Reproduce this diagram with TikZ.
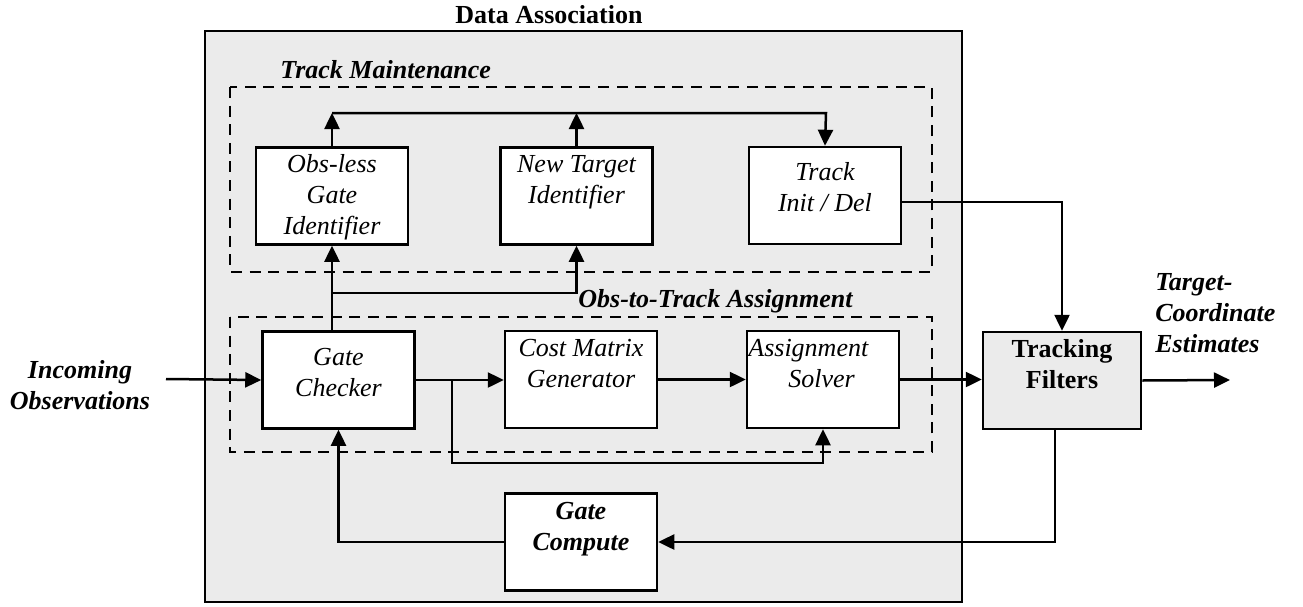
\documentclass[tikz,border=0pt]{standalone}
\usepackage{fontspec}
\setmainfont{Liberation Serif}
\usetikzlibrary{arrows.meta}
\begin{document}
\begin{tikzpicture}[x=0.5pt,y=-0.5pt,
  arr/.style={line width=1.25pt,-{Triangle[length=8pt,width=7.5pt]}},
  blk/.style={draw,line width=1.25pt,fill=white,minimum width=76pt,minimum height=48.5pt,inner sep=0pt},
  dbox/.style={draw,line width=1.25pt,dash pattern=on 5.5pt off 3.8pt},
  it/.style={font=\fontsize{13pt}{15.3pt}\selectfont\itshape,align=center,inner sep=0pt},
  bi/.style={font=\fontsize{13pt}{15.3pt}\selectfont\bfseries\itshape,align=center,inner sep=0pt},
  bd/.style={font=\fontsize{13pt}{15.3pt}\selectfont\bfseries,align=center,inner sep=0pt}]
\useasboundingbox (0,0) rectangle (1303,606);
% outer box
\draw[line width=1.25pt,fill=black!8] (205,31) rectangle (962,602);
\node[bd,anchor=base] (datl) at (549,23) {Data Association};
% dashed groups
\draw[dbox] (230,87) rectangle (932,272);
\draw[dbox] (230,317) rectangle (932,452);
\node[bi,anchor=base west] (tml) at (280,78) {Track Maintenance};
\node[bi,anchor=base west] (otl) at (578,307) {Obs-to-Track Assignment};
% blocks
\node[blk] (obs) at (332,196) {};
\node[blk] (newt) at (576.5,196) {};
\node[blk] (init) at (825,195.5) {};
\node[blk] (gchk) at (338.5,380) {};
\node[blk] (cost) at (581,379.5) {};
\node[blk] (asg) at (823,379.5) {};
\node[blk] (gcomp) at (581,542) {};
\node[blk,fill=black!8,minimum width=79pt] (trk) at (1062,380.5) {};
% block texts (base = last line)
\node[it,anchor=base] (obst) at (332,234) {Obs-less\\Gate\\Identifier};
\node[it,anchor=base] (newtt) at (576.5,203) {New Target\\Identifier};
\node[it,anchor=base] (initt) at (825,211) {Track\\Init / Del};
\node[it,anchor=base] (gchkt) at (338.5,396) {Gate\\Checker};
\node[it,anchor=base] (costt) at (581,387) {Cost Matrix\\Generator};
\node[it,anchor=base west,align=left] (asgt) at (748,387) {Assignment\\\hspace*{20pt}Solver};
\node[bi,anchor=base] (gcompt) at (581,550) {Gate\\Compute};
\node[bd,anchor=base] (trkt) at (1062,388) {Tracking\\Filters};
% outer labels
\node[bi,anchor=base] (incl) at (80,409) {Incoming\\Observations};
\node[bi,anchor=base west,align=left] (outl) at (1155,352) {Target-\\Coordinate\\Estimates};
% coordinates
\coordinate (inc) at (166,379);
\coordinate (outp) at (1230,380);
\coordinate (b1) at (452,379);
\coordinate (b1bot) at (452,463);
\coordinate (b2) at (332,293);
\coordinate (topr) at (826,113);
\coordinate (topl) at (332,113);
\coordinate (topm) at (576.5,113);
% connectors
\draw[arr] (inc) -- (gchk.west);
\draw[arr] (gchk.east) -- (gchk.east -| cost.west);
\draw[arr] (b1) -- (b1bot) -| (asg.south);
\draw[arr] (cost.east) -- (cost.east -| asg.west);
\draw[arr] (asg.east) -- (asg.east -| trk.west);
\draw[arr] (trk.east) -- (outp);
\draw[arr] ([xshift=-3.5pt]trk.south) |- (gcomp.east);
\draw[arr] (gcomp.west) -| (gchk.south);
\draw[arr] (gchk.north -| obs.south) -- (obs.south);
\draw[arr] (b2) -| (newt.south);
\draw[arr] (obs.north) -- (topl);
\draw[arr] (newt.north) -- (topm);
\draw[arr] (topl) -- (topr) -- (init.north);
\draw[arr] ([yshift=-3.25pt]init.east) -| (trk.north);
\end{tikzpicture}
\end{document}
